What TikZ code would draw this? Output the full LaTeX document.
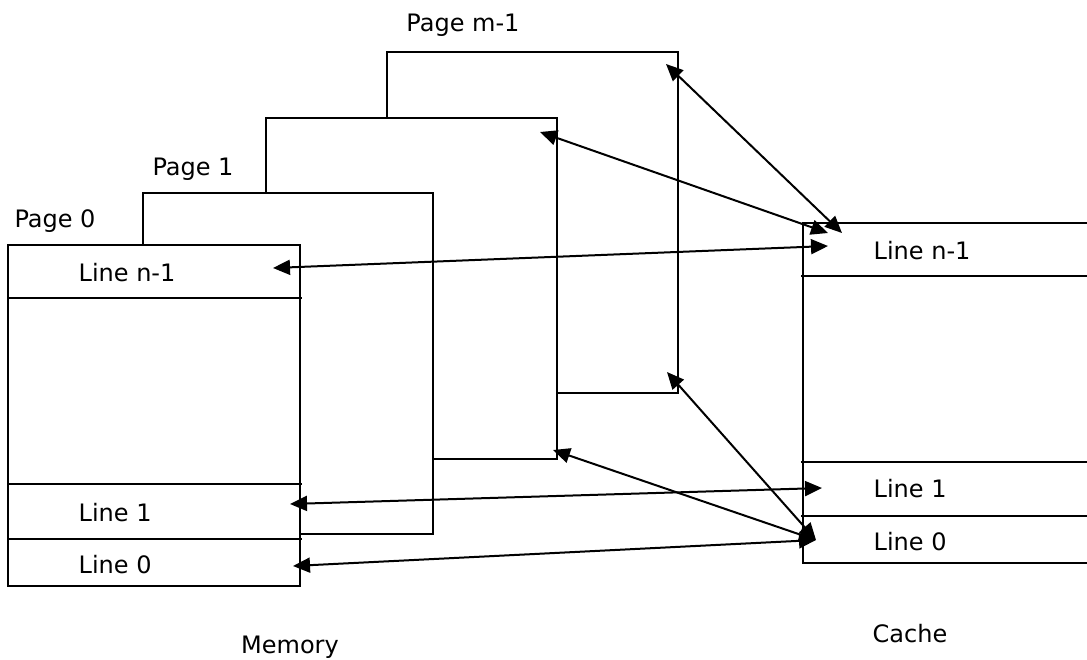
\documentclass[tikz,border=0pt]{standalone}
\usepackage{fontspec}
\setmainfont{DejaVu Sans}
\usetikzlibrary{arrows.meta}
\begin{document}
\begin{tikzpicture}[x=.5pt,y=-.5pt,line width=.65pt,font=\fontsize{12}{14}\selectfont,
  page/.style={draw,fill=white},
  linetext/.style={inner sep=0pt,anchor=west},
  link/.style={{Triangle[length=8.5pt,width=7.5pt]}-{Triangle[length=8.5pt,width=7.5pt]},line width=1pt}]
\useasboundingbox (0,0) rectangle (1087,659);
\draw[page] (387,52) rectangle (678,393);\draw[page] (266,118) rectangle (557,459);
\draw[page] (143,193) rectangle (433,534);\draw[page] (8,245) rectangle (300,586);
\draw (7,298)--(302,298);\draw (7,484)--(302,484);\draw (7,539)--(302,539);
\draw (1087,223)--(803,223)--(803,563)--(1087,563);
\draw (801,276)--(1087,276);\draw (801,462)--(1087,462);\draw (801,516)--(1087,516);
\node (pgm) at (463,25) {Page m-1};\node (pg1) at (193,169) {Page 1};\node (pg0) at (55,221) {Page 0};
\node[linetext] (mn) at (78,273) {Line n-1};\node[linetext] (m1) at (78,513) {Line 1};\node[linetext] (m0) at (78,565) {Line 0};
\node[linetext] (cn) at (873,251) {Line n-1};\node[linetext] (c1) at (873,489) {Line 1};\node[linetext] (c0) at (873,542) {Line 0};
\node (mem) at (290,647) {Memory};\node (cache) at (910,634) {Cache};
\coordinate (pmtop) at (666,64);\coordinate (pmbot) at (667,372);
\coordinate (pktop) at (540,132);\coordinate (pkbot) at (553,450);
\coordinate (pn) at (273,268);\coordinate (p1) at (290,504);\coordinate (p0) at (293,566);
\coordinate (qn) at (828,246);\coordinate (qna) at (842,233);\coordinate (qnb) at (828,233);
\coordinate (q1) at (822,488);\coordinate (q0) at (816,540);
\draw[link] (pn)--(qn);\draw[link] (pmtop)--(qna);\draw[link] (pktop)--(qnb);
\draw[link] (pmbot)--(q0);\draw[link] (pkbot)--(q0);
\draw[link] (p1)--(q1);\draw[link] (p0)--(q0);
\end{tikzpicture}
\end{document}
